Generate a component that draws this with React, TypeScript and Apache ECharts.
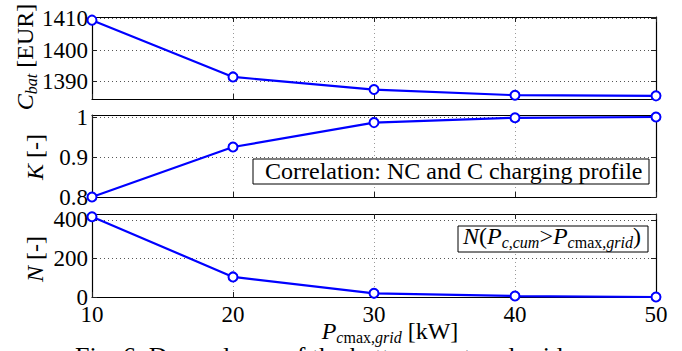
import React, { useEffect, useRef } from "react";
import * as echarts from "echarts";

// Maximum grid charging power P_cmax,grid [kW]
const gridPower = [10, 20, 30, 40, 50];
// Battery cost C_bat [EUR]
const batteryCost = [1409.5, 1391.5, 1387.5, 1385.7, 1385.5];
// Correlation K between NC and C charging profile [-]
const correlationK = [0.8, 0.925, 0.986, 0.998, 1.0];
// Number of intervals with P_c,cum > P_cmax,grid [-]
const exceedCount = [416, 104, 19, 5, 0];

const xTicks = [10, 20, 30, 40, 50];

// value ranges and tick steps of the three panels
const costRange = [1384.5, 1410.5, 10];
const corrRange = [0.8, 1.005, 0.1];
const countRange = [0, 430, 200];

const SERIF = "Liberation Serif";
const BLUE = "#0000ff";

const panels = [
  { top: 17, height: 82, range: costRange, values: batteryCost, showMin: false },
  { top: 115, height: 82, range: corrRange, values: correlationK, showMin: true },
  { top: 214, height: 83, range: countRange, values: exceedCount, showMin: true },
];

const rich = {
  i: { fontFamily: SERIF, fontSize: 24, fontStyle: "italic", color: "#000", verticalAlign: "middle" },
  r: { fontFamily: SERIF, fontSize: 24, color: "#000", verticalAlign: "middle" },
  si: { fontFamily: SERIF, fontSize: 16, fontStyle: "italic", color: "#000", verticalAlign: "middle", padding: [12, 0, 0, 0] },
  sr: { fontFamily: SERIF, fontSize: 16, color: "#000", verticalAlign: "middle", padding: [12, 0, 0, 0] },
};

const fmt = (v: number) => `${+v.toFixed(4)}`;

export default function App() {
  const ref = useRef<HTMLDivElement>(null);

  useEffect(() => {
    if (!ref.current) return;
    const chart = echarts.init(ref.current, undefined, { renderer: "svg" });

    const axisLine = { show: true, onZero: false, lineStyle: { color: "#000", width: 1.2 } };
    const tick = { show: true, inside: true, length: 5, lineStyle: { color: "#222", width: 1 } };

    const grid = panels.map((p) => ({ left: 92, right: 26, top: p.top, height: p.height, show: false }));

    const xBottom = panels.map((_, i) => ({
      type: "value",
      gridIndex: i,
      position: "bottom",
      min: xTicks[0],
      max: xTicks[xTicks.length - 1],
      interval: 10,
      axisLine,
      axisTick: tick,
      axisLabel: {
        show: i === 2,
        fontFamily: SERIF,
        fontSize: 23,
        color: "#000",
        margin: 6,
        formatter: fmt,
      },
      splitLine: { show: true, lineStyle: { color: "#9a9a9a", type: [1, 3], width: 1 } },
    }));
    const xTop = panels.map((_, i) => ({
      type: "value",
      gridIndex: i,
      position: "top",
      min: xTicks[0],
      max: xTicks[xTicks.length - 1],
      interval: 10,
      axisLine,
      axisTick: tick,
      axisLabel: { show: false },
      splitLine: { show: false },
    }));

    const yLeft = panels.map((p, i) => ({
      type: "value",
      gridIndex: i,
      position: "left",
      min: p.range[0],
      max: p.range[1],
      minInterval: p.range[2],
      maxInterval: p.range[2],
      axisLine,
      axisTick: tick,
      axisLabel: {
        fontFamily: SERIF,
        fontSize: 23,
        color: "#000",
        margin: 4,
        showMinLabel: p.showMin,
        showMaxLabel: false,
        formatter: fmt,
      },
      splitLine: { show: true, lineStyle: { color: "#555", type: [1, 3], width: 1 } },
    }));
    const yRight = panels.map((p, i) => ({
      type: "value",
      gridIndex: i,
      position: "right",
      min: p.range[0],
      max: p.range[1],
      minInterval: p.range[2],
      maxInterval: p.range[2],
      axisLine,
      axisTick: tick,
      axisLabel: { show: false },
      splitLine: { show: false },
    }));

    const series = panels.map((p, i) => ({
      type: "line",
      xAxisIndex: i,
      yAxisIndex: i,
      data: gridPower.map((x, j) => [x, p.values[j]]),
      symbol: "circle",
      symbolSize: 9,
      clip: false,
      z: 5,
      lineStyle: { color: BLUE, width: 2.2 },
      itemStyle: { color: "#fff", borderColor: BLUE, borderWidth: 2 },
    }));

    const graphic = [
      // y-axis titles
      {
        type: "text",
        x: 25,
        y: 57,
        rotation: Math.PI / 2,
        style: { text: "{i|C}{si|bat}{r| [EUR]}", rich, align: "center", verticalAlign: "middle" },
      },
      {
        type: "text",
        x: 35,
        y: 157,
        rotation: Math.PI / 2,
        style: { text: "{i|K}{r| [-]}", rich, align: "center", verticalAlign: "middle" },
      },
      {
        type: "text",
        x: 35,
        y: 259,
        rotation: Math.PI / 2,
        style: { text: "{i|N}{r| [-]}", rich, align: "center", verticalAlign: "middle" },
      },
      // x-axis title
      {
        type: "text",
        x: 390,
        y: 331,
        style: {
          text: "{i|P}{si|c}{sr|max,}{si|grid}{r| [kW]}",
          rich,
          align: "center",
          verticalAlign: "middle",
        },
      },
      // panel annotations
      {
        type: "rect",
        shape: { x: 253, y: 159, width: 396, height: 25 },
        style: { fill: "#fff", stroke: "#000", lineWidth: 1 },
        z: 10,
      },
      {
        type: "text",
        x: 265,
        y: 171,
        z: 11,
        style: {
          text: "Correlation: NC and C charging profile",
          fontFamily: SERIF,
          fontSize: 24,
          fill: "#000",
          align: "left",
          verticalAlign: "middle",
        },
      },
      {
        type: "rect",
        shape: { x: 458, y: 226, width: 190, height: 26 },
        style: { fill: "#fff", stroke: "#000", lineWidth: 1 },
        z: 10,
      },
      {
        type: "text",
        x: 463,
        y: 236,
        z: 11,
        style: {
          text: "{i|N}{r|(}{i|P}{si|c,cum}{r|>}{i|P}{si|c}{sr|max,}{si|grid}{r|)}",
          rich,
          align: "left",
          verticalAlign: "middle",
        },
      },
      // figure caption, running off the lower edge
      {
        type: "text",
        x: 75,
        y: 356,
        style: {
          text: "Fig. 6. Dependence of the battery cost and grid",
          fontFamily: SERIF,
          fontSize: 26,
          fill: "#000",
          align: "left",
          verticalAlign: "middle",
        },
      },
    ];

    chart.setOption({
      animation: false,
      backgroundColor: "#fff",
      textStyle: { fontFamily: SERIF },
      grid,
      xAxis: [...xBottom, ...xTop],
      yAxis: [...yLeft, ...yRight],
      series,
      graphic,
    });

    return () => chart.dispose();
  }, []);

  return (
    <div
      ref={ref}
      style={{ position: "absolute", left: 0, top: 0, width: 682, height: 351, background: "#fff" }}
    />
  );
}
